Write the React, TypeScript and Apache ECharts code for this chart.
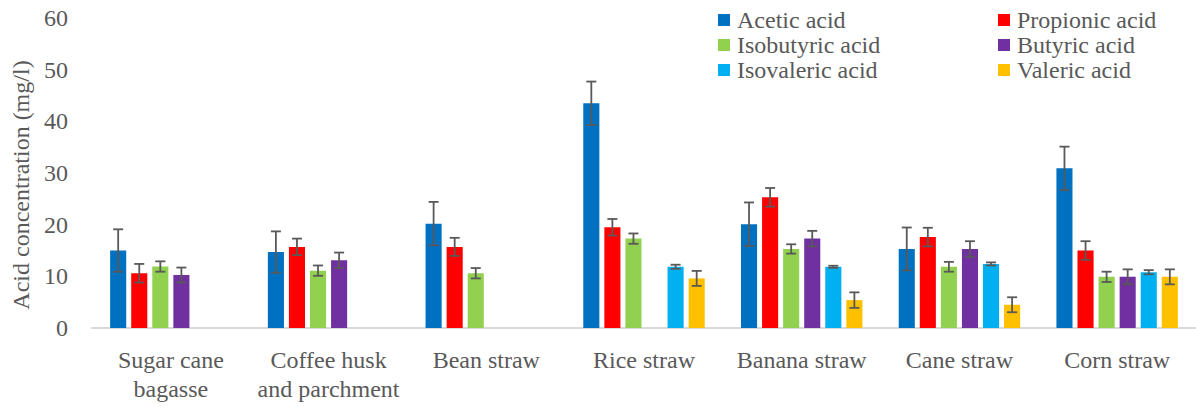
import React, { useEffect, useRef } from "react";
import * as echarts from "echarts";

const categories = [
  "Sugar cane\nbagasse",
  "Coffee husk\nand parchment",
  "Bean straw",
  "Rice straw",
  "Banana straw",
  "Cane straw",
  "Corn straw",
];

const seriesNames = [
  "Acetic acid",
  "Propionic acid",
  "Isobutyric acid",
  "Butyric acid",
  "Isovaleric acid",
  "Valeric acid",
];

const colors = ["#0070C0", "#FF0000", "#92D050", "#7030A0", "#00B0F0", "#FFC000"];

const acetic = [15.0, 14.7, 20.2, 43.5, 20.1, 15.3, 30.9];
const aceticErr = [4.1, 4.0, 4.2, 4.2, 4.2, 4.15, 4.2];
const propionic = [10.6, 15.7, 15.7, 19.5, 25.3, 17.6, 15.0];
const propionicErr = [1.8, 1.6, 1.75, 1.6, 1.8, 1.8, 1.8];
const isobutyric = [11.9, 11.1, 10.6, 17.3, 15.3, 11.85, 9.9];
const isobutyricErr = [1.0, 1.0, 1.0, 1.0, 0.9, 0.95, 1.0];
const butyric = [10.25, 13.1, null, null, 17.3, 15.3, 9.9];
const butyricErr = [1.45, 1.5, null, null, 1.5, 1.5, 1.45];
const isovaleric = [null, null, null, 11.85, 11.85, 12.4, 10.8];
const isovalericErr = [null, null, null, 0.4, 0.2, 0.3, 0.4];
const valeric = [null, null, null, 9.6, 5.4, 4.5, 9.9];
const valericErr = [null, null, null, 1.45, 1.5, 1.45, 1.45];

const yTicks = [0, 10, 20, 30, 40, 50, 60];

const values: (number | null)[][] = [acetic, propionic, isobutyric, butyric, isovaleric, valeric];
const errors: (number | null)[][] = [aceticErr, propionicErr, isobutyricErr, butyricErr, isovalericErr, valericErr];

const CAT_GAP = 0.23;
const BAR_GAP = 0.31;
const TEXT = "#595959";
const FONT = "Liberation Serif";

export default function App() {
  const ref = useRef<HTMLDivElement>(null);
  useEffect(() => {
    if (!ref.current) return;
    const chart = echarts.init(ref.current, undefined, { renderer: "svg" });

    const errData: number[][] = [];
    values.forEach((arr, s) => {
      arr.forEach((v, c) => {
        const e = errors[s][c];
        if (v != null && e != null) errData.push([c, s, v - e, v + e]);
      });
    });

    const n = seriesNames.length;
    const barSeries = seriesNames.map((name, i) => ({
      name,
      type: "bar",
      data: values[i],
      itemStyle: { color: colors[i] },
      barGap: `${BAR_GAP * 100}%`,
      barCategoryGap: `${CAT_GAP * 100}%`,
    }));

    const errSeries = {
      type: "custom",
      z: 10,
      silent: true,
      data: errData,
      encode: { x: 0, y: [2, 3] },
      renderItem: (params: any, api: any) => {
        const cat = api.value(0);
        const s = api.value(1);
        const lo = api.value(2);
        const hi = api.value(3);
        const pHi = api.coord([cat, hi]);
        const pLo = api.coord([cat, lo]);
        const catW = api.size([1, 0])[0];
        const w = (catW * (1 - CAT_GAP)) / (n + (n - 1) * BAR_GAP);
        const x = pHi[0] + (s - (n - 1) / 2) * w * (1 + BAR_GAP);
        const cap = 5;
        const style = { stroke: "#595959", lineWidth: 1.8 };
        return {
          type: "group",
          children: [
            { type: "line", shape: { x1: x, y1: pHi[1], x2: x, y2: pLo[1] }, style },
            { type: "line", shape: { x1: x - cap, y1: pHi[1], x2: x + cap, y2: pHi[1] }, style },
            { type: "line", shape: { x1: x - cap, y1: pLo[1], x2: x + cap, y2: pLo[1] }, style },
          ],
        };
      },
    };

    const legendBase = {
      orient: "vertical",
      top: 8,
      padding: 0,
      itemWidth: 12,
      itemHeight: 12,
      itemGap: 1,
      icon: "rect",
      textStyle: { color: TEXT, fontFamily: FONT, fontSize: 24, padding: [0, 0, 0, 2] },
    };

    chart.setOption({
      animation: false,
      textStyle: { fontFamily: FONT },
      legend: [
        { ...legendBase, left: 718, data: ["Acetic acid", "Isobutyric acid", "Isovaleric acid"] },
        { ...legendBase, left: 998, data: ["Propionic acid", "Butyric acid", "Valeric acid"] },
      ],
      grid: { left: 92, right: 0, top: 18, bottom: 79, containLabel: false },
      xAxis: {
        type: "category",
        data: categories,
        axisLine: { lineStyle: { color: "#D9D9D9", width: 2 } },
        axisTick: { show: false },
        axisLabel: {
          interval: 0,
          color: TEXT,
          fontFamily: FONT,
          fontSize: 24,
          lineHeight: 29,
          margin: 17,
        },
      },
      yAxis: {
        type: "value",
        min: 0,
        max: yTicks[yTicks.length - 1],
        interval: 10,
        name: "Acid concentration (mg/l)",
        nameLocation: "middle",
        nameGap: 52,
        nameTextStyle: { color: TEXT, fontFamily: FONT, fontSize: 24, padding: [0, 24, 0, 0] },
        axisLine: { show: false },
        axisTick: { show: false },
        splitLine: { show: false },
        axisLabel: { color: TEXT, fontFamily: FONT, fontSize: 24, margin: 24 },
      },
      series: [...barSeries, errSeries],
    });

    return () => chart.dispose();
  }, []);

  return (
    <div
      ref={ref}
      style={{ position: "fixed", left: 0, top: 0, width: 1196, height: 407, background: "#fff" }}
    />
  );
}
